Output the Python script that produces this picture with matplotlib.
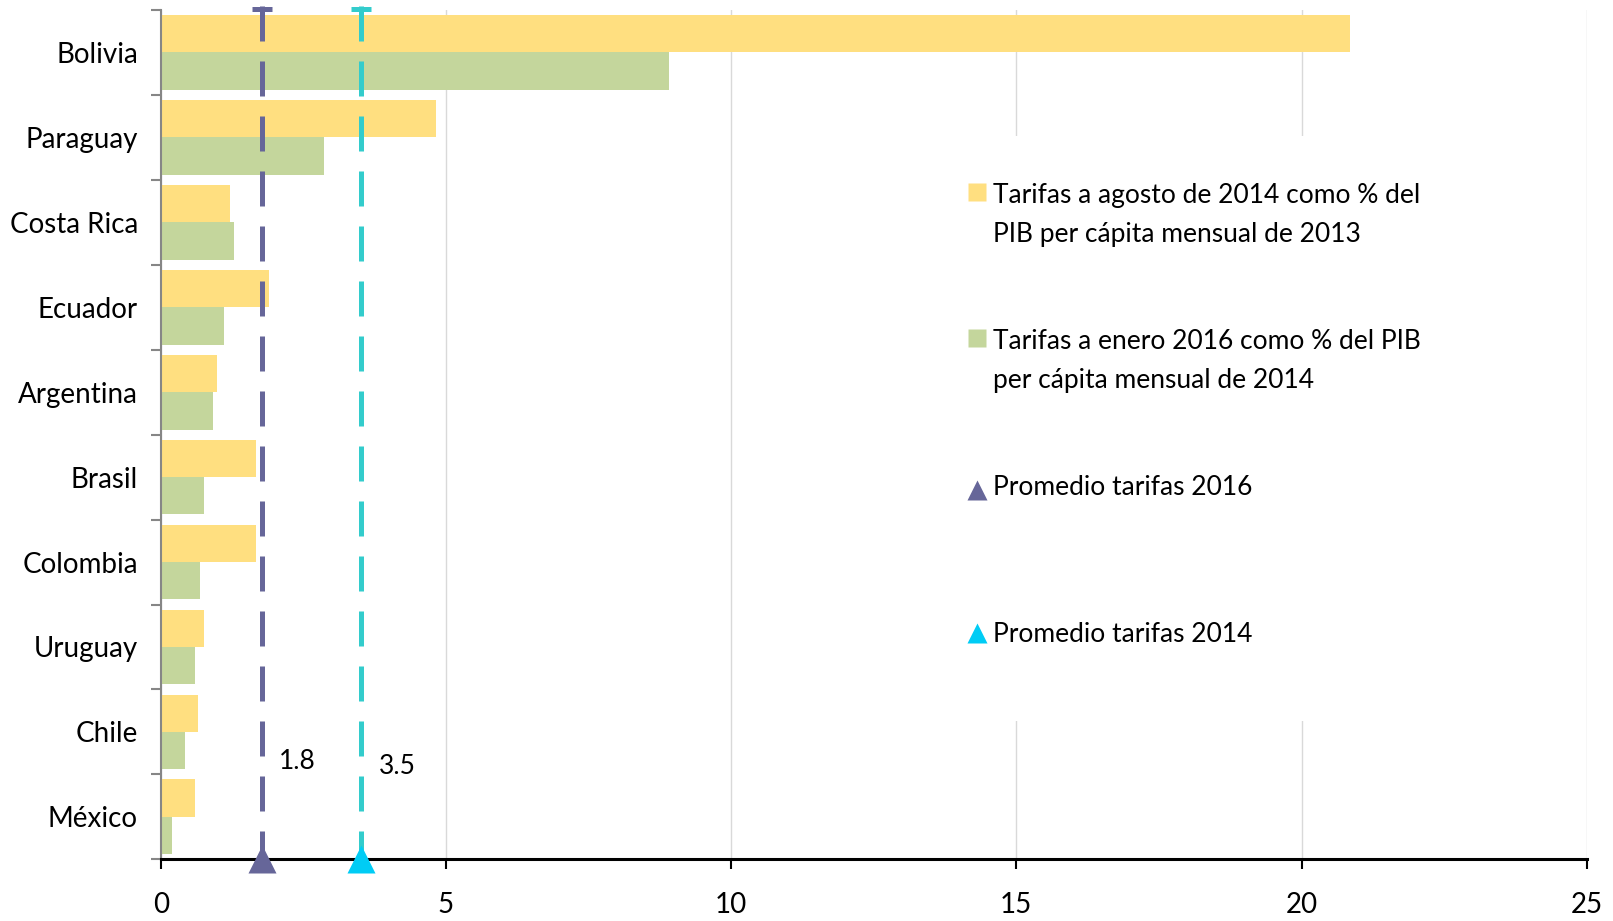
import numpy as np
import matplotlib.pyplot as plt

# data, top to bottom
paises = ['Bolivia', 'Paraguay', 'Costa Rica', 'Ecuador', 'Argentina',
          'Brasil', 'Colombia', 'Uruguay', 'Chile', 'México']
tarifas_2014 = [20.85, 4.82, 1.22, 1.90, 0.99, 1.67, 1.67, 0.76, 0.65, 0.60]
tarifas_2016 = [8.92, 2.87, 1.29, 1.11, 0.92, 0.76, 0.69, 0.60, 0.43, 0.20]
promedio_2016 = 1.77
promedio_2014 = 3.52
etiquetas = ['Tarifas a agosto de 2014 como % del\nPIB per cápita mensual de 2013',
             'Tarifas a enero 2016 como % del PIB\nper cápita mensual de 2014',
             'Promedio tarifas 2016',
             'Promedio tarifas 2014']

c_yel = '#FFDF80'
c_grn = '#C4D69C'
c_pur = '#666699'
c_cyl = '#33CCCC'
c_cyt = '#00CCF5'

plt.rcParams['font.family'] = ['Lato', 'DejaVu Sans']

W, H = 1613, 921
fig = plt.figure(figsize=(W / 100, H / 100), dpi=100)
ax = fig.add_axes([160.7 / W, 1 - 859.3 / H, 1426 / W, 849.3 / H])

n = len(paises)
y = np.arange(n)[::-1]
h = 0.44
ax.barh(y + h / 2, tarifas_2014, height=h, color=c_yel, zorder=2)
ax.barh(y - h / 2, tarifas_2016, height=h, color=c_grn, zorder=2)

ax.set_xlim(0, 25)
ax.set_ylim(-0.5, n - 0.5)

# vertical average lines with cap on top and triangle on the axis
top = n - 0.5 + 0.05
for v, cl, ct, dy in [(promedio_2016, c_pur, c_pur, 0.657),
                      (promedio_2014, c_cyl, c_cyt, 0.587)]:
    ax.plot([v, v], [top, -0.5], color=cl, lw=3.6, ls=(0, (7, 4)),
            zorder=4, clip_on=False, solid_capstyle='butt', dash_capstyle='butt')
    ax.plot(v, n - 0.5 + 0.006, marker='_', ms=14.4, mew=3.6, color=cl,
            zorder=4, clip_on=False)
    ax.plot(v, -0.5, marker='^', ms=20, color=ct, mec='none', zorder=6,
            clip_on=False)
    ax.text(v + 0.62, dy, f'{v:.1f}', fontsize=19, ha='center', va='center')

# grid
ax.set_xticks(np.arange(0, 26, 5))
ax.xaxis.grid(True, color='#D9D9D9', lw=1, zorder=0)
ax.set_axisbelow(True)

for s in ['top', 'right']:
    ax.spines[s].set_visible(False)
ax.spines['left'].set_color('#868686')
ax.spines['left'].set_linewidth(1.5)
ax.spines['bottom'].set_color('black')
ax.spines['bottom'].set_linewidth(2.2)
ax.spines['bottom'].set_zorder(5)

ax.tick_params(axis='x', length=7.5, width=1.5, color='black', pad=16,
               labelsize=20)
ax.set_yticks(np.arange(-0.5, n, 1))
ax.set_yticklabels([])
ax.set_yticks(y, minor=True)
ax.set_yticklabels(paises, minor=True)
ax.tick_params(axis='y', which='major', length=7.5, width=1.5, color='#868686')
ax.tick_params(axis='y', which='minor', length=0, pad=16.5, labelsize=20)

# legend drawn by hand on a white box
def fx(px):
    return px / W

def fy(py):
    return 1 - py / H

fig.patches.append(plt.Rectangle((fx(955), fy(721)), fx(1445 - 955), 585 / H,
                                 transform=fig.transFigure, facecolor='white',
                                 edgecolor='none', zorder=1))
handles = [('s', c_yel, 192, 13), ('s', c_grn, 338, 13),
           ('^', c_pur, 490, 15), ('^', c_cyt, 633, 15)]
bases = [203, 349, 495, 642]
for (m, c, cy, ms), lab, b in zip(handles, etiquetas, bases):
    fig.add_artist(plt.Line2D([fx(977)], [fy(cy)], marker=m, ms=ms, color=c,
                              mec='none', transform=fig.transFigure))
    for k, line in enumerate(lab.split('\n')):
        fig.text(fx(993), fy(b + 39 * k), line, fontsize=19, va='baseline',
                 ha='left')

fig.savefig('out.png', dpi=100)
